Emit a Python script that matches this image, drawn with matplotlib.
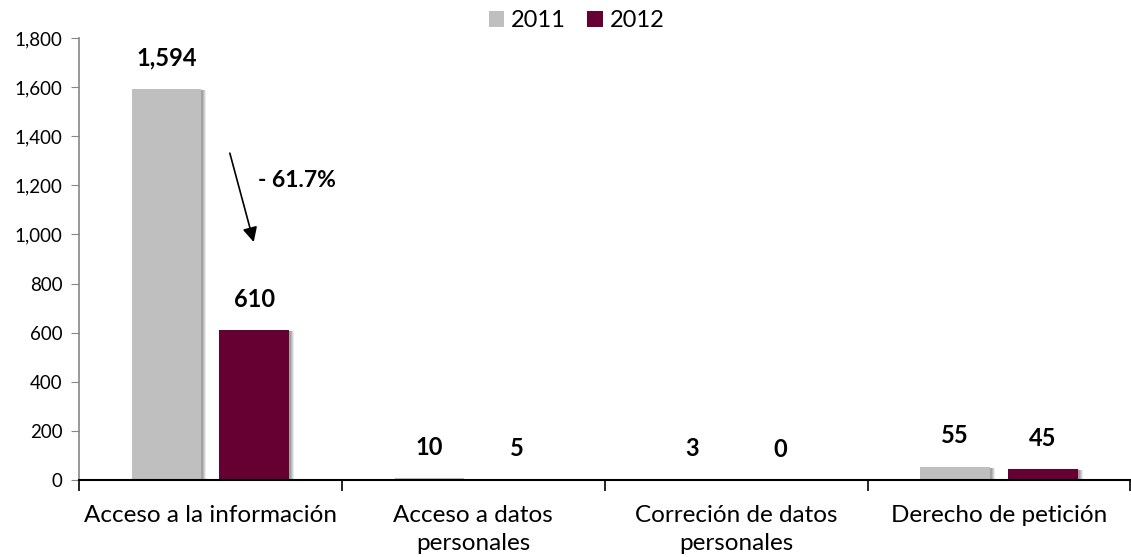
import matplotlib
matplotlib.use('Agg')
import matplotlib.pyplot as plt
import matplotlib.transforms as mtransforms
import numpy as np
from matplotlib.ticker import FuncFormatter

plt.rcParams['font.family'] = ['Lato', 'DejaVu Sans']

categories = ['Acceso a la información', 'Acceso a datos\npersonales',
              'Correción de datos\npersonales', 'Derecho de petición']
years = ['2011', '2012']
vals_2011 = [1594, 10, 3, 55]
vals_2012 = [610, 5, 0, 45]
colors = ['#bfbfbf', '#660033']

fig = plt.figure(figsize=(11.31, 5.57), dpi=100)
ax = fig.add_axes([0.0698, 0.1382, 0.9297, 0.7936])

x = np.arange(len(categories))
width = 0.265
offset = 0.167

# soft drop shadow
for series, sign in ((vals_2011, -1), (vals_2012, 1)):
    for dx, a in [(5, 0.08), (4, 0.10), (3, 0.12), (2, 0.12)]:
        tr = ax.transData + mtransforms.ScaledTranslation(dx / 100, -1 / 100, fig.dpi_scale_trans)
        ax.bar(x + sign * offset, series, width, color='black', alpha=a,
               transform=tr, zorder=1, linewidth=0)

b1 = ax.bar(x - offset, vals_2011, width, color=colors[0], label=years[0], zorder=2)
b2 = ax.bar(x + offset, vals_2012, width, color=colors[1], label=years[1], zorder=2)

for bars, series in ((b1, vals_2011), (b2, vals_2012)):
    for rect, v in zip(bars, series):
        ax.annotate('{:,}'.format(v), (rect.get_x() + rect.get_width() / 2, v),
                    xytext=(0, 22), textcoords='offset points', ha='center',
                    va='center', fontsize=17, fontweight='bold')

ax.annotate('', xy=(0.165, 969), xytext=(0.074, 1331),
            arrowprops=dict(arrowstyle='-|>', color='black', lw=1.2,
                            mutation_scale=22, shrinkA=0, shrinkB=0))
ax.text(0.18, 1221, '- 61.7%', fontsize=16.5, fontweight='bold', va='center')

ax.set_xlim(-0.5, 3.5)
ax.set_ylim(0, 1800)
ax.set_yticks(np.arange(0, 1801, 200))
ax.yaxis.set_major_formatter(FuncFormatter(lambda v, p: '{:,}'.format(int(v))))
ax.set_xticks(x)
ax.set_xticklabels(categories, fontsize=17.5, linespacing=1.4)
ax.set_xticks(np.arange(-0.5, 3.6, 1), minor=True)
ax.tick_params(axis='x', which='major', length=0, pad=18)
ax.tick_params(axis='x', which='minor', length=8, width=1.2, color='black')
ax.tick_params(axis='y', length=6, color='#868686', labelsize=13.5, pad=6)

for s in ('top', 'right'):
    ax.spines[s].set_visible(False)
ax.spines['left'].set_color('#868686')
ax.spines['left'].set_linewidth(1.2)
ax.spines['bottom'].set_color('black')
ax.spines['bottom'].set_linewidth(1.5)
ax.spines['bottom'].set_zorder(3)

fig.legend(loc='center', bbox_to_anchor=(0.51, 0.963), ncol=2, frameon=False,
           fontsize=17, handlelength=0.64, handleheight=0.64, handletextpad=0.3,
           columnspacing=0.9, borderpad=0)

fig.savefig('out.png', dpi=100)
